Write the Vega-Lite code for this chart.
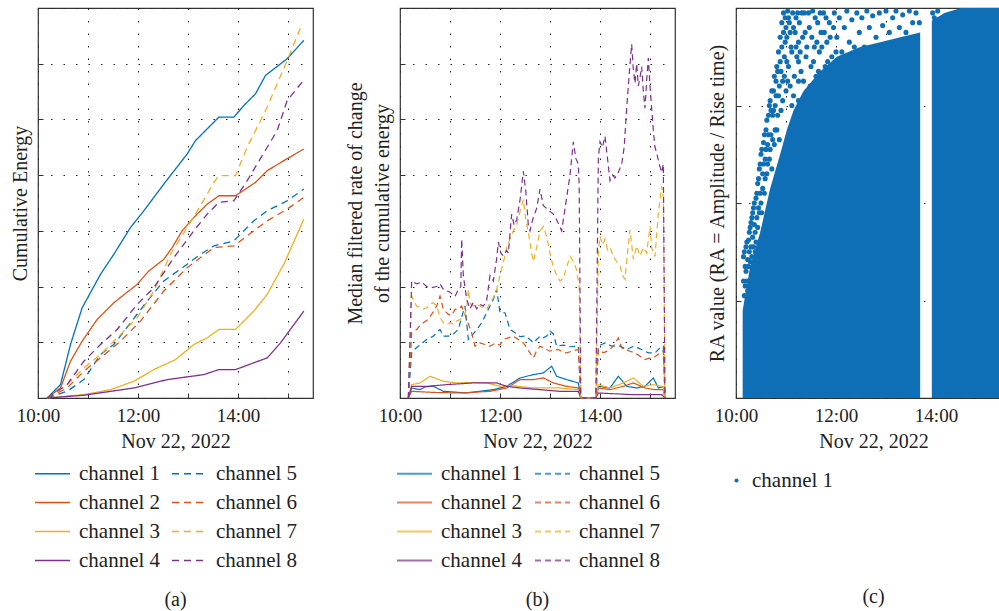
{
  "$schema": "https://vega.github.io/schema/vega-lite/v6.json",
  "padding": {"left": 9, "top": 6, "right": 0, "bottom": 0},
  "background": "white",
  "spacing": 30,
  "config": {
    "font": "Liberation Serif, DejaVu Serif, serif",
    "view": {"stroke": "#333", "strokeWidth": 1.2},
    "axis": {
      "labelFont": "Liberation Serif, DejaVu Serif, serif", "titleFont": "Liberation Serif, DejaVu Serif, serif",
      "labelFontSize": 19, "titleFontSize": 20, "titleFontWeight": "normal",
      "labelColor": "#222", "titleColor": "#222",
      "gridColor": "#222", "gridDash": [1.5, 11], "gridWidth": 1,
      "domain": false, "tickColor": "#333", "tickSize": -5, "tickWidth": 1,
      "labelPadding": 13, "titlePadding": 6, "labelFlush": false
    },
    "legend": {"labelFont": "Liberation Serif, DejaVu Serif, serif", "labelFontSize": 21, "labelColor": "#222"},
    "title": {"font": "Liberation Serif, DejaVu Serif, serif", "fontSize": 20, "fontWeight": "normal", "color": "#222"}
  },
  "resolve": {
    "scale": {"x": "independent", "y": "independent", "color": "independent", "strokeDash": "independent"},
    "legend": {"color": "independent", "strokeDash": "independent"}
  },
  "hconcat": [
    {
      "width": 275, "height": 390,
      "title": {"text": "(a)", "orient": "bottom", "anchor": "middle", "offset": 19},
      "data": {
        "format": {"parse": {"t": "date:'%H:%M'"}},
        "values": [
          {"c":"channel 1","t":"10:11","v":0},{"c":"channel 1","t":"10:27","v":0.24},{"c":"channel 1","t":"10:39","v":0.96},{"c":"channel 1","t":"10:53","v":1.62},{"c":"channel 1","t":"11:15","v":2.22},{"c":"channel 1","t":"11:31","v":2.58},{"c":"channel 1","t":"11:51","v":3.06},{"c":"channel 1","t":"12:07","v":3.36},{"c":"channel 1","t":"12:13","v":3.48},{"c":"channel 1","t":"12:31","v":3.84},{"c":"channel 1","t":"12:59","v":4.38},{"c":"channel 1","t":"13:09","v":4.62},{"c":"channel 1","t":"13:37","v":5.04},{"c":"channel 1","t":"13:55","v":5.04},{"c":"channel 1","t":"14:07","v":5.25},{"c":"channel 1","t":"14:21","v":5.46},{"c":"channel 1","t":"14:33","v":5.79},{"c":"channel 1","t":"14:59","v":6.09},{"c":"channel 1","t":"15:19","v":6.42},
          {"c":"channel 2","t":"10:11","v":0},{"c":"channel 2","t":"10:27","v":0.18},{"c":"channel 2","t":"10:39","v":0.66},{"c":"channel 2","t":"10:53","v":1.02},{"c":"channel 2","t":"11:11","v":1.41},{"c":"channel 2","t":"11:31","v":1.71},{"c":"channel 2","t":"11:59","v":2.04},{"c":"channel 2","t":"12:13","v":2.28},{"c":"channel 2","t":"12:31","v":2.49},{"c":"channel 2","t":"12:41","v":2.7},{"c":"channel 2","t":"12:53","v":3.0},{"c":"channel 2","t":"13:07","v":3.24},{"c":"channel 2","t":"13:23","v":3.48},{"c":"channel 2","t":"13:37","v":3.63},{"c":"channel 2","t":"13:57","v":3.63},{"c":"channel 2","t":"14:21","v":3.87},{"c":"channel 2","t":"14:35","v":4.08},{"c":"channel 2","t":"14:55","v":4.26},{"c":"channel 2","t":"15:19","v":4.47},
          {"c":"channel 3","t":"10:11","v":0},{"c":"channel 3","t":"10:55","v":0.06},{"c":"channel 3","t":"11:27","v":0.15},{"c":"channel 3","t":"11:55","v":0.3},{"c":"channel 3","t":"12:19","v":0.51},{"c":"channel 3","t":"12:45","v":0.69},{"c":"channel 3","t":"13:07","v":0.96},{"c":"channel 3","t":"13:23","v":1.08},{"c":"channel 3","t":"13:37","v":1.23},{"c":"channel 3","t":"13:57","v":1.23},{"c":"channel 3","t":"14:19","v":1.56},{"c":"channel 3","t":"14:35","v":1.86},{"c":"channel 3","t":"14:55","v":2.4},{"c":"channel 3","t":"15:19","v":3.21},
          {"c":"channel 4","t":"10:11","v":0},{"c":"channel 4","t":"10:55","v":0.05},{"c":"channel 4","t":"11:55","v":0.18},{"c":"channel 4","t":"12:35","v":0.33},{"c":"channel 4","t":"13:19","v":0.42},{"c":"channel 4","t":"13:37","v":0.51},{"c":"channel 4","t":"13:57","v":0.51},{"c":"channel 4","t":"14:35","v":0.72},{"c":"channel 4","t":"14:51","v":0.99},{"c":"channel 4","t":"15:19","v":1.56},
          {"c":"channel 5","t":"10:11","v":0},{"c":"channel 5","t":"10:35","v":0.12},{"c":"channel 5","t":"10:55","v":0.33},{"c":"channel 5","t":"11:15","v":0.78},{"c":"channel 5","t":"11:31","v":0.96},{"c":"channel 5","t":"11:51","v":1.35},{"c":"channel 5","t":"12:11","v":1.74},{"c":"channel 5","t":"12:31","v":2.1},{"c":"channel 5","t":"12:59","v":2.4},{"c":"channel 5","t":"13:15","v":2.58},{"c":"channel 5","t":"13:31","v":2.73},{"c":"channel 5","t":"13:55","v":2.82},{"c":"channel 5","t":"14:19","v":3.18},{"c":"channel 5","t":"14:35","v":3.36},{"c":"channel 5","t":"14:59","v":3.54},{"c":"channel 5","t":"15:19","v":3.75},
          {"c":"channel 6","t":"10:11","v":0},{"c":"channel 6","t":"10:35","v":0.18},{"c":"channel 6","t":"10:55","v":0.48},{"c":"channel 6","t":"11:15","v":0.72},{"c":"channel 6","t":"11:39","v":1.02},{"c":"channel 6","t":"12:03","v":1.38},{"c":"channel 6","t":"12:31","v":1.92},{"c":"channel 6","t":"12:59","v":2.34},{"c":"channel 6","t":"13:15","v":2.52},{"c":"channel 6","t":"13:31","v":2.7},{"c":"channel 6","t":"13:55","v":2.73},{"c":"channel 6","t":"14:19","v":3.0},{"c":"channel 6","t":"14:35","v":3.18},{"c":"channel 6","t":"14:59","v":3.39},{"c":"channel 6","t":"15:19","v":3.6},
          {"c":"channel 7","t":"10:11","v":0},{"c":"channel 7","t":"10:35","v":0.24},{"c":"channel 7","t":"10:55","v":0.54},{"c":"channel 7","t":"11:15","v":0.78},{"c":"channel 7","t":"11:35","v":1.08},{"c":"channel 7","t":"11:59","v":1.44},{"c":"channel 7","t":"12:19","v":1.92},{"c":"channel 7","t":"12:39","v":2.58},{"c":"channel 7","t":"12:59","v":3.06},{"c":"channel 7","t":"13:15","v":3.45},{"c":"channel 7","t":"13:31","v":3.87},{"c":"channel 7","t":"13:37","v":3.99},{"c":"channel 7","t":"13:57","v":3.99},{"c":"channel 7","t":"14:11","v":4.5},{"c":"channel 7","t":"14:35","v":5.22},{"c":"channel 7","t":"14:59","v":6.06},{"c":"channel 7","t":"15:17","v":6.72},
          {"c":"channel 8","t":"10:11","v":0},{"c":"channel 8","t":"10:35","v":0.24},{"c":"channel 8","t":"10:55","v":0.66},{"c":"channel 8","t":"11:15","v":0.96},{"c":"channel 8","t":"11:35","v":1.23},{"c":"channel 8","t":"11:59","v":1.68},{"c":"channel 8","t":"12:19","v":1.98},{"c":"channel 8","t":"12:43","v":2.52},{"c":"channel 8","t":"13:07","v":3.0},{"c":"channel 8","t":"13:23","v":3.3},{"c":"channel 8","t":"13:37","v":3.51},{"c":"channel 8","t":"13:55","v":3.54},{"c":"channel 8","t":"14:11","v":3.9},{"c":"channel 8","t":"14:35","v":4.5},{"c":"channel 8","t":"14:47","v":4.8},{"c":"channel 8","t":"14:59","v":5.34},{"c":"channel 8","t":"15:17","v":5.67}
        ]
      },
      "mark": {"type": "line", "strokeWidth": 1.3},
      "encoding": {
        "x": {"field": "t", "type": "temporal",
          "scale": {"domain": [{"year":1900,"month":1,"date":1,"hours":10},{"year":1900,"month":1,"date":1,"hours":15,"minutes":30}]},
          "axis": {"title": "Nov 22, 2022", "grid": true,
            "values": [{"year":1900,"month":1,"date":1,"hours":10},{"year":1900,"month":1,"date":1,"hours":11},{"year":1900,"month":1,"date":1,"hours":12},{"year":1900,"month":1,"date":1,"hours":13},{"year":1900,"month":1,"date":1,"hours":14},{"year":1900,"month":1,"date":1,"hours":15}],
            "labelExpr": "hours(datum.value) % 2 == 0 ? timeFormat(datum.value, '%H:%M') : ''"}},
        "y": {"field": "v", "type": "quantitative",
          "scale": {"domain": [0, 7], "nice": false},
          "axis": {"title": "Cumulative Energy", "labels": false, "values": [0,1,2,3,4,5,6,7], "titlePadding": 7}},
        "color": {"field": "c", "type": "nominal",
          "scale": {"domain": ["channel 1","channel 2","channel 3","channel 4","channel 5","channel 6","channel 7","channel 8"],
                    "range": ["#0072BD","#D95319","#EDB120","#7E2F8E","#0072BD","#D95319","#EDB120","#7E2F8E"]},
          "legend": {"title": null, "orient": "none", "legendX": -4, "legendY": 447, "columns": 2, "symbolType": "stroke", "symbolSize": 1225, "symbolStrokeWidth": 1.5, "labelOffset": 8, "columnPadding": 8, "rowPadding": -9}},
        "strokeDash": {"field": "c", "type": "nominal",
          "scale": {"domain": ["channel 1","channel 2","channel 3","channel 4","channel 5","channel 6","channel 7","channel 8"],
                    "range": [[1,0],[1,0],[1,0],[1,0],[7,5],[7,5],[7,5],[7,5]]},
          "legend": {"title": null, "orient": "none", "legendX": -4, "legendY": 447, "columns": 2, "symbolType": "stroke", "symbolSize": 1225, "symbolStrokeWidth": 1.5, "labelOffset": 8, "columnPadding": 8, "rowPadding": -9}}
      }
    },
    {
      "width": 275, "height": 390,
      "title": {"text": "(b)", "orient": "bottom", "anchor": "middle", "offset": 19},
      "data": {
        "format": {"parse": {"t": "date:'%H:%M'"}},
        "values": [
          {"c":"channel 1","t":"10:10","v":0},{"c":"channel 1","t":"10:14","v":0.18},{"c":"channel 1","t":"10:24","v":0.15},{"c":"channel 1","t":"10:30","v":0.2},{"c":"channel 1","t":"10:40","v":0.21},{"c":"channel 1","t":"10:52","v":0.12},{"c":"channel 1","t":"11:20","v":0.09},{"c":"channel 1","t":"11:52","v":0.15},{"c":"channel 1","t":"12:08","v":0.21},{"c":"channel 1","t":"12:24","v":0.36},{"c":"channel 1","t":"12:40","v":0.42},{"c":"channel 1","t":"12:52","v":0.45},{"c":"channel 1","t":"13:02","v":0.57},{"c":"channel 1","t":"13:08","v":0.39},{"c":"channel 1","t":"13:20","v":0.33},{"c":"channel 1","t":"13:34","v":0.27},{"c":"channel 1","t":"13:37","v":0},{"c":"channel 1","t":"13:55","v":0},{"c":"channel 1","t":"13:58","v":0.21},{"c":"channel 1","t":"14:12","v":0.18},{"c":"channel 1","t":"14:22","v":0.39},{"c":"channel 1","t":"14:32","v":0.21},{"c":"channel 1","t":"14:44","v":0.18},{"c":"channel 1","t":"14:54","v":0.21},{"c":"channel 1","t":"15:04","v":0.36},{"c":"channel 1","t":"15:10","v":0.18},{"c":"channel 1","t":"15:16","v":0.2},{"c":"channel 1","t":"15:18","v":0},
          {"c":"channel 2","t":"10:10","v":0},{"c":"channel 2","t":"10:14","v":0.12},{"c":"channel 2","t":"10:40","v":0.1},{"c":"channel 2","t":"11:12","v":0.09},{"c":"channel 2","t":"11:48","v":0.12},{"c":"channel 2","t":"12:08","v":0.18},{"c":"channel 2","t":"12:24","v":0.33},{"c":"channel 2","t":"12:40","v":0.33},{"c":"channel 2","t":"12:52","v":0.36},{"c":"channel 2","t":"13:04","v":0.27},{"c":"channel 2","t":"13:20","v":0.21},{"c":"channel 2","t":"13:34","v":0.18},{"c":"channel 2","t":"13:37","v":0},{"c":"channel 2","t":"13:55","v":0},{"c":"channel 2","t":"13:58","v":0.18},{"c":"channel 2","t":"14:12","v":0.15},{"c":"channel 2","t":"14:28","v":0.21},{"c":"channel 2","t":"14:40","v":0.27},{"c":"channel 2","t":"14:54","v":0.18},{"c":"channel 2","t":"15:06","v":0.15},{"c":"channel 2","t":"15:16","v":0.15},{"c":"channel 2","t":"15:18","v":0},
          {"c":"channel 3","t":"10:10","v":0},{"c":"channel 3","t":"10:14","v":0.24},{"c":"channel 3","t":"10:24","v":0.27},{"c":"channel 3","t":"10:36","v":0.39},{"c":"channel 3","t":"10:52","v":0.3},{"c":"channel 3","t":"11:08","v":0.27},{"c":"channel 3","t":"11:28","v":0.28},{"c":"channel 3","t":"11:44","v":0.27},{"c":"channel 3","t":"12:00","v":0.21},{"c":"channel 3","t":"12:16","v":0.22},{"c":"channel 3","t":"12:40","v":0.18},{"c":"channel 3","t":"13:12","v":0.18},{"c":"channel 3","t":"13:34","v":0.15},{"c":"channel 3","t":"13:37","v":0},{"c":"channel 3","t":"13:55","v":0},{"c":"channel 3","t":"13:58","v":0.24},{"c":"channel 3","t":"14:12","v":0.18},{"c":"channel 3","t":"14:28","v":0.27},{"c":"channel 3","t":"14:40","v":0.36},{"c":"channel 3","t":"14:52","v":0.21},{"c":"channel 3","t":"15:04","v":0.24},{"c":"channel 3","t":"15:16","v":0.2},{"c":"channel 3","t":"15:18","v":0},
          {"c":"channel 4","t":"10:10","v":0},{"c":"channel 4","t":"10:14","v":0.21},{"c":"channel 4","t":"10:32","v":0.21},{"c":"channel 4","t":"10:56","v":0.24},{"c":"channel 4","t":"11:28","v":0.27},{"c":"channel 4","t":"11:56","v":0.27},{"c":"channel 4","t":"12:08","v":0.21},{"c":"channel 4","t":"12:24","v":0.18},{"c":"channel 4","t":"12:48","v":0.15},{"c":"channel 4","t":"13:12","v":0.12},{"c":"channel 4","t":"13:34","v":0.12},{"c":"channel 4","t":"13:37","v":0},{"c":"channel 4","t":"13:55","v":0},{"c":"channel 4","t":"13:58","v":0.09},{"c":"channel 4","t":"14:40","v":0.06},{"c":"channel 4","t":"15:14","v":0.06},{"c":"channel 4","t":"15:18","v":0},
          {"c":"channel 5","t":"10:10","v":0},{"c":"channel 5","t":"10:14","v":0.81},{"c":"channel 5","t":"10:18","v":0.88},{"c":"channel 5","t":"10:22","v":0.93},{"c":"channel 5","t":"10:26","v":0.98},{"c":"channel 5","t":"10:32","v":1.05},{"c":"channel 5","t":"10:40","v":1.11},{"c":"channel 5","t":"10:44","v":1.18},{"c":"channel 5","t":"10:48","v":1.23},{"c":"channel 5","t":"10:52","v":1.11},{"c":"channel 5","t":"10:58","v":1.11},{"c":"channel 5","t":"11:04","v":1.15},{"c":"channel 5","t":"11:10","v":1.23},{"c":"channel 5","t":"11:14","v":1.45},{"c":"channel 5","t":"11:18","v":1.65},{"c":"channel 5","t":"11:22","v":1.05},{"c":"channel 5","t":"11:28","v":1.15},{"c":"channel 5","t":"11:32","v":1.23},{"c":"channel 5","t":"11:38","v":1.35},{"c":"channel 5","t":"11:42","v":1.47},{"c":"channel 5","t":"11:48","v":1.65},{"c":"channel 5","t":"11:52","v":1.77},{"c":"channel 5","t":"11:56","v":1.95},{"c":"channel 5","t":"12:00","v":1.53},{"c":"channel 5","t":"12:06","v":1.53},{"c":"channel 5","t":"12:12","v":1.23},{"c":"channel 5","t":"12:18","v":1.17},{"c":"channel 5","t":"12:24","v":1.1},{"c":"channel 5","t":"12:30","v":1.11},{"c":"channel 5","t":"12:36","v":1.05},{"c":"channel 5","t":"12:40","v":0.99},{"c":"channel 5","t":"12:44","v":1.05},{"c":"channel 5","t":"12:48","v":1.11},{"c":"channel 5","t":"12:52","v":1.08},{"c":"channel 5","t":"12:56","v":1.11},{"c":"channel 5","t":"13:00","v":1.2},{"c":"channel 5","t":"13:04","v":1.15},{"c":"channel 5","t":"13:08","v":0.93},{"c":"channel 5","t":"13:16","v":0.95},{"c":"channel 5","t":"13:24","v":0.92},{"c":"channel 5","t":"13:34","v":0.93},{"c":"channel 5","t":"13:37","v":0},{"c":"channel 5","t":"13:55","v":0},{"c":"channel 5","t":"13:58","v":0.93},{"c":"channel 5","t":"14:06","v":0.99},{"c":"channel 5","t":"14:14","v":0.93},{"c":"channel 5","t":"14:24","v":0.93},{"c":"channel 5","t":"14:32","v":0.87},{"c":"channel 5","t":"14:40","v":0.93},{"c":"channel 5","t":"14:50","v":0.87},{"c":"channel 5","t":"14:58","v":0.81},{"c":"channel 5","t":"15:06","v":0.81},{"c":"channel 5","t":"15:12","v":0.9},{"c":"channel 5","t":"15:16","v":0.93},{"c":"channel 5","t":"15:18","v":0},
          {"c":"channel 6","t":"10:10","v":0},{"c":"channel 6","t":"10:14","v":1.17},{"c":"channel 6","t":"10:20","v":1.23},{"c":"channel 6","t":"10:24","v":1.3},{"c":"channel 6","t":"10:28","v":1.35},{"c":"channel 6","t":"10:34","v":1.41},{"c":"channel 6","t":"10:40","v":1.55},{"c":"channel 6","t":"10:44","v":1.65},{"c":"channel 6","t":"10:48","v":1.83},{"c":"channel 6","t":"10:52","v":1.59},{"c":"channel 6","t":"10:58","v":1.5},{"c":"channel 6","t":"11:02","v":1.48},{"c":"channel 6","t":"11:06","v":1.59},{"c":"channel 6","t":"11:10","v":1.6},{"c":"channel 6","t":"11:14","v":1.65},{"c":"channel 6","t":"11:20","v":1.41},{"c":"channel 6","t":"11:26","v":1.17},{"c":"channel 6","t":"11:30","v":0.93},{"c":"channel 6","t":"11:36","v":0.99},{"c":"channel 6","t":"11:42","v":0.96},{"c":"channel 6","t":"11:48","v":0.93},{"c":"channel 6","t":"11:54","v":0.98},{"c":"channel 6","t":"12:00","v":0.95},{"c":"channel 6","t":"12:04","v":1.05},{"c":"channel 6","t":"12:10","v":1.08},{"c":"channel 6","t":"12:16","v":1.11},{"c":"channel 6","t":"12:22","v":1.05},{"c":"channel 6","t":"12:28","v":0.99},{"c":"channel 6","t":"12:32","v":0.9},{"c":"channel 6","t":"12:36","v":0.81},{"c":"channel 6","t":"12:40","v":0.72},{"c":"channel 6","t":"12:44","v":0.85},{"c":"channel 6","t":"12:48","v":0.93},{"c":"channel 6","t":"12:52","v":0.9},{"c":"channel 6","t":"12:56","v":0.87},{"c":"channel 6","t":"13:00","v":0.84},{"c":"channel 6","t":"13:04","v":0.86},{"c":"channel 6","t":"13:10","v":0.87},{"c":"channel 6","t":"13:16","v":0.82},{"c":"channel 6","t":"13:20","v":0.81},{"c":"channel 6","t":"13:26","v":0.84},{"c":"channel 6","t":"13:34","v":0.87},{"c":"channel 6","t":"13:37","v":0},{"c":"channel 6","t":"13:55","v":0},{"c":"channel 6","t":"13:58","v":0.87},{"c":"channel 6","t":"14:04","v":0.81},{"c":"channel 6","t":"14:10","v":0.85},{"c":"channel 6","t":"14:16","v":0.93},{"c":"channel 6","t":"14:22","v":1.08},{"c":"channel 6","t":"14:26","v":0.9},{"c":"channel 6","t":"14:30","v":0.87},{"c":"channel 6","t":"14:36","v":0.84},{"c":"channel 6","t":"14:42","v":0.81},{"c":"channel 6","t":"14:48","v":0.75},{"c":"channel 6","t":"14:54","v":0.69},{"c":"channel 6","t":"15:00","v":0.72},{"c":"channel 6","t":"15:06","v":0.74},{"c":"channel 6","t":"15:12","v":0.81},{"c":"channel 6","t":"15:16","v":0.85},{"c":"channel 6","t":"15:18","v":0},
          {"c":"channel 7","t":"10:10","v":0},{"c":"channel 7","t":"10:14","v":1.83},{"c":"channel 7","t":"10:18","v":1.7},{"c":"channel 7","t":"10:20","v":1.65},{"c":"channel 7","t":"10:24","v":1.62},{"c":"channel 7","t":"10:28","v":1.6},{"c":"channel 7","t":"10:32","v":1.62},{"c":"channel 7","t":"10:36","v":1.68},{"c":"channel 7","t":"10:40","v":1.71},{"c":"channel 7","t":"10:44","v":1.65},{"c":"channel 7","t":"10:48","v":1.45},{"c":"channel 7","t":"10:52","v":1.35},{"c":"channel 7","t":"10:56","v":1.32},{"c":"channel 7","t":"11:00","v":1.35},{"c":"channel 7","t":"11:04","v":1.33},{"c":"channel 7","t":"11:08","v":1.38},{"c":"channel 7","t":"11:12","v":1.41},{"c":"channel 7","t":"11:16","v":1.45},{"c":"channel 7","t":"11:20","v":1.6},{"c":"channel 7","t":"11:22","v":1.95},{"c":"channel 7","t":"11:24","v":1.7},{"c":"channel 7","t":"11:28","v":1.65},{"c":"channel 7","t":"11:32","v":1.68},{"c":"channel 7","t":"11:36","v":1.65},{"c":"channel 7","t":"11:40","v":1.62},{"c":"channel 7","t":"11:44","v":1.6},{"c":"channel 7","t":"11:48","v":1.7},{"c":"channel 7","t":"11:52","v":1.8},{"c":"channel 7","t":"11:56","v":1.95},{"c":"channel 7","t":"12:00","v":2.2},{"c":"channel 7","t":"12:04","v":2.43},{"c":"channel 7","t":"12:08","v":2.7},{"c":"channel 7","t":"12:12","v":2.85},{"c":"channel 7","t":"12:16","v":3.0},{"c":"channel 7","t":"12:20","v":3.1},{"c":"channel 7","t":"12:24","v":3.35},{"c":"channel 7","t":"12:28","v":3.56},{"c":"channel 7","t":"12:31","v":3.2},{"c":"channel 7","t":"12:34","v":2.97},{"c":"channel 7","t":"12:38","v":2.6},{"c":"channel 7","t":"12:40","v":2.45},{"c":"channel 7","t":"12:44","v":2.7},{"c":"channel 7","t":"12:48","v":3.0},{"c":"channel 7","t":"12:52","v":3.08},{"c":"channel 7","t":"12:56","v":2.9},{"c":"channel 7","t":"13:00","v":2.6},{"c":"channel 7","t":"13:04","v":2.35},{"c":"channel 7","t":"13:08","v":2.2},{"c":"channel 7","t":"13:12","v":2.1},{"c":"channel 7","t":"13:16","v":2.15},{"c":"channel 7","t":"13:20","v":2.35},{"c":"channel 7","t":"13:24","v":2.54},{"c":"channel 7","t":"13:28","v":2.45},{"c":"channel 7","t":"13:32","v":2.3},{"c":"channel 7","t":"13:35","v":2.0},{"c":"channel 7","t":"13:37","v":0},{"c":"channel 7","t":"13:55","v":0},{"c":"channel 7","t":"13:58","v":2.6},{"c":"channel 7","t":"14:00","v":2.9},{"c":"channel 7","t":"14:03","v":2.75},{"c":"channel 7","t":"14:06","v":2.85},{"c":"channel 7","t":"14:09","v":2.66},{"c":"channel 7","t":"14:12","v":2.7},{"c":"channel 7","t":"14:16","v":2.54},{"c":"channel 7","t":"14:20","v":2.45},{"c":"channel 7","t":"14:24","v":2.37},{"c":"channel 7","t":"14:27","v":2.2},{"c":"channel 7","t":"14:30","v":2.13},{"c":"channel 7","t":"14:33","v":2.6},{"c":"channel 7","t":"14:36","v":3.02},{"c":"channel 7","t":"14:40","v":2.49},{"c":"channel 7","t":"14:44","v":2.73},{"c":"channel 7","t":"14:48","v":2.55},{"c":"channel 7","t":"14:52","v":2.7},{"c":"channel 7","t":"14:56","v":2.6},{"c":"channel 7","t":"15:00","v":3.08},{"c":"channel 7","t":"15:02","v":2.7},{"c":"channel 7","t":"15:06","v":2.54},{"c":"channel 7","t":"15:10","v":3.32},{"c":"channel 7","t":"15:14","v":3.8},{"c":"channel 7","t":"15:16","v":3.6},{"c":"channel 7","t":"15:18","v":0},
          {"c":"channel 8","t":"10:10","v":0},{"c":"channel 8","t":"10:14","v":2.1},{"c":"channel 8","t":"10:20","v":2.05},{"c":"channel 8","t":"10:26","v":2.08},{"c":"channel 8","t":"10:32","v":2.0},{"c":"channel 8","t":"10:38","v":1.98},{"c":"channel 8","t":"10:44","v":2.0},{"c":"channel 8","t":"10:48","v":2.05},{"c":"channel 8","t":"10:52","v":1.95},{"c":"channel 8","t":"11:00","v":1.9},{"c":"channel 8","t":"11:06","v":1.82},{"c":"channel 8","t":"11:10","v":1.95},{"c":"channel 8","t":"11:13","v":2.0},{"c":"channel 8","t":"11:14","v":2.85},{"c":"channel 8","t":"11:16","v":2.2},{"c":"channel 8","t":"11:20","v":1.77},{"c":"channel 8","t":"11:24","v":1.6},{"c":"channel 8","t":"11:28","v":1.72},{"c":"channel 8","t":"11:32","v":1.6},{"c":"channel 8","t":"11:36","v":1.68},{"c":"channel 8","t":"11:40","v":1.65},{"c":"channel 8","t":"11:44","v":1.75},{"c":"channel 8","t":"11:48","v":2.2},{"c":"channel 8","t":"11:52","v":2.1},{"c":"channel 8","t":"11:56","v":2.5},{"c":"channel 8","t":"11:58","v":2.8},{"c":"channel 8","t":"12:01","v":2.6},{"c":"channel 8","t":"12:04","v":2.55},{"c":"channel 8","t":"12:08","v":2.65},{"c":"channel 8","t":"12:10","v":2.6},{"c":"channel 8","t":"12:14","v":3.3},{"c":"channel 8","t":"12:17","v":3.1},{"c":"channel 8","t":"12:20","v":3.2},{"c":"channel 8","t":"12:24","v":3.55},{"c":"channel 8","t":"12:28","v":4.07},{"c":"channel 8","t":"12:31","v":3.7},{"c":"channel 8","t":"12:34","v":3.1},{"c":"channel 8","t":"12:36","v":3.0},{"c":"channel 8","t":"12:40","v":3.25},{"c":"channel 8","t":"12:44","v":3.4},{"c":"channel 8","t":"12:48","v":3.75},{"c":"channel 8","t":"12:52","v":3.45},{"c":"channel 8","t":"12:56","v":3.4},{"c":"channel 8","t":"13:00","v":3.35},{"c":"channel 8","t":"13:04","v":3.3},{"c":"channel 8","t":"13:08","v":3.2},{"c":"channel 8","t":"13:11","v":3.1},{"c":"channel 8","t":"13:14","v":3.0},{"c":"channel 8","t":"13:17","v":3.3},{"c":"channel 8","t":"13:20","v":3.6},{"c":"channel 8","t":"13:24","v":4.0},{"c":"channel 8","t":"13:28","v":4.6},{"c":"channel 8","t":"13:31","v":4.3},{"c":"channel 8","t":"13:34","v":4.2},{"c":"channel 8","t":"13:35","v":3.8},{"c":"channel 8","t":"13:37","v":0},{"c":"channel 8","t":"13:55","v":0},{"c":"channel 8","t":"13:58","v":4.3},{"c":"channel 8","t":"14:00","v":4.6},{"c":"channel 8","t":"14:03","v":4.5},{"c":"channel 8","t":"14:06","v":4.7},{"c":"channel 8","t":"14:09","v":4.3},{"c":"channel 8","t":"14:12","v":3.9},{"c":"channel 8","t":"14:15","v":4.0},{"c":"channel 8","t":"14:18","v":3.95},{"c":"channel 8","t":"14:22","v":4.05},{"c":"channel 8","t":"14:26","v":4.2},{"c":"channel 8","t":"14:29","v":4.5},{"c":"channel 8","t":"14:32","v":5.2},{"c":"channel 8","t":"14:35","v":5.8},{"c":"channel 8","t":"14:38","v":6.35},{"c":"channel 8","t":"14:40","v":5.9},{"c":"channel 8","t":"14:42","v":5.65},{"c":"channel 8","t":"14:44","v":6.0},{"c":"channel 8","t":"14:46","v":5.6},{"c":"channel 8","t":"14:48","v":5.75},{"c":"channel 8","t":"14:50","v":5.95},{"c":"channel 8","t":"14:52","v":5.5},{"c":"channel 8","t":"14:54","v":5.2},{"c":"channel 8","t":"14:56","v":5.7},{"c":"channel 8","t":"14:58","v":6.1},{"c":"channel 8","t":"15:00","v":5.6},{"c":"channel 8","t":"15:02","v":5.2},{"c":"channel 8","t":"15:04","v":4.8},{"c":"channel 8","t":"15:06","v":4.5},{"c":"channel 8","t":"15:08","v":4.4},{"c":"channel 8","t":"15:11","v":4.2},{"c":"channel 8","t":"15:14","v":4.05},{"c":"channel 8","t":"15:16","v":4.2},{"c":"channel 8","t":"15:18","v":0}
        ]
      },
      "mark": {"type": "line", "strokeWidth": 1.2},
      "encoding": {
        "x": {"field": "t", "type": "temporal",
          "scale": {"domain": [{"year":1900,"month":1,"date":1,"hours":10},{"year":1900,"month":1,"date":1,"hours":15,"minutes":30}]},
          "axis": {"title": "Nov 22, 2022", "grid": true,
            "values": [{"year":1900,"month":1,"date":1,"hours":10},{"year":1900,"month":1,"date":1,"hours":11},{"year":1900,"month":1,"date":1,"hours":12},{"year":1900,"month":1,"date":1,"hours":13},{"year":1900,"month":1,"date":1,"hours":14},{"year":1900,"month":1,"date":1,"hours":15}],
            "labelExpr": "hours(datum.value) % 2 == 0 ? timeFormat(datum.value, '%H:%M') : ''"}},
        "y": {"field": "v", "type": "quantitative",
          "scale": {"domain": [0, 7], "nice": false},
          "axis": {"title": ["Median filtered rate of change", "of the cumulative energy"], "titleLineHeight": 27, "labels": false, "values": [0,1,2,3,4,5,6,7], "titlePadding": 7}},
        "color": {"field": "c", "type": "nominal",
          "scale": {"domain": ["channel 1","channel 2","channel 3","channel 4","channel 5","channel 6","channel 7","channel 8"],
                    "range": ["#0072BD","#D95319","#EDB120","#7E2F8E","#0072BD","#D95319","#EDB120","#7E2F8E"]},
          "legend": {"title": null, "orient": "none", "legendX": -4, "legendY": 447, "columns": 2, "symbolType": "stroke", "symbolSize": 1225, "symbolStrokeWidth": 2, "symbolOpacity": 0.7, "labelOffset": 8, "columnPadding": 8, "rowPadding": -9}},
        "strokeDash": {"field": "c", "type": "nominal",
          "scale": {"domain": ["channel 1","channel 2","channel 3","channel 4","channel 5","channel 6","channel 7","channel 8"],
                    "range": [[1,0],[1,0],[1,0],[1,0],[6,4],[6,4],[6,4],[6,4]]},
          "legend": {"title": null, "orient": "none", "legendX": -4, "legendY": 447, "columns": 2, "symbolType": "stroke", "symbolSize": 1225, "symbolStrokeWidth": 2, "symbolOpacity": 0.7, "labelOffset": 8, "columnPadding": 8, "rowPadding": -9}}
      }
    },
    {
      "width": 275, "height": 390,
      "title": {"text": "(c)", "orient": "bottom", "anchor": "middle", "offset": 96},
      "layer": [
        {
          "data": {
            "format": {"parse": {"t": "date:'%H:%M'"}},
            "values": [
              {"seg":1,"t":"10:08","v":0.9},{"seg":1,"t":"10:17","v":1.35},{"seg":1,"t":"10:29","v":1.7},{"seg":1,"t":"10:41","v":2.15},{"seg":1,"t":"10:53","v":2.5},{"seg":1,"t":"11:01","v":2.75},{"seg":1,"t":"11:09","v":2.95},{"seg":1,"t":"11:21","v":3.15},{"seg":1,"t":"11:41","v":3.35},{"seg":1,"t":"12:01","v":3.5},{"seg":1,"t":"12:29","v":3.6},{"seg":1,"t":"12:53","v":3.65},{"seg":1,"t":"13:17","v":3.7},{"seg":1,"t":"13:41","v":3.75},
              {"seg":2,"t":"13:55","v":3.87},{"seg":2,"t":"14:10","v":3.95},{"seg":2,"t":"14:30","v":4.0},{"seg":2,"t":"15:30","v":4.0}
            ]
          },
          "mark": {"type": "area", "color": "#0f6fb6", "clip": true},
          "encoding": {
            "x": {"field": "t", "type": "temporal",
              "scale": {"domain": [{"year":1900,"month":1,"date":1,"hours":10},{"year":1900,"month":1,"date":1,"hours":15,"minutes":30}]},
              "axis": {"title": "Nov 22, 2022", "grid": true,
                "values": [{"year":1900,"month":1,"date":1,"hours":10},{"year":1900,"month":1,"date":1,"hours":11},{"year":1900,"month":1,"date":1,"hours":12},{"year":1900,"month":1,"date":1,"hours":13},{"year":1900,"month":1,"date":1,"hours":14},{"year":1900,"month":1,"date":1,"hours":15}],
                "labelExpr": "hours(datum.value) % 2 == 0 ? timeFormat(datum.value, '%H:%M') : ''"}},
            "y": {"field": "v", "type": "quantitative", "stack": null,
              "scale": {"domain": [0, 4], "nice": false},
              "axis": {"title": "RA value (RA = Amplitude / Rise time)", "labels": false, "values": [0,1,2,3,4], "titlePadding": 8}},
            "detail": {"field": "seg", "type": "nominal"}
          }
        },
        {
          "data": {
            "format": {"parse": {"t": "date:'%H:%M'"}},
            "values": [
              {"c":"channel 1","t":"10:09","v":1.2},{"c":"channel 1","t":"10:09","v":1.45},{"c":"channel 1","t":"10:10","v":1.05},{"c":"channel 1","t":"10:10","v":1.5},{"c":"channel 1","t":"10:11","v":1.35},{"c":"channel 1","t":"10:11","v":1.15},{"c":"channel 1","t":"10:12","v":1.55},{"c":"channel 1","t":"10:12","v":1.3},{"c":"channel 1","t":"10:13","v":1.2},{"c":"channel 1","t":"10:13","v":1.6},{"c":"channel 1","t":"10:14","v":1.42},{"c":"channel 1","t":"10:14","v":1.1},{"c":"channel 1","t":"10:15","v":1.62},{"c":"channel 1","t":"10:15","v":1.35},{"c":"channel 1","t":"10:16","v":1.5},{"c":"channel 1","t":"10:16","v":1.7},{"c":"channel 1","t":"10:17","v":1.75},{"c":"channel 1","t":"10:17","v":1.4},{"c":"channel 1","t":"10:18","v":1.55},{"c":"channel 1","t":"10:18","v":1.8},{"c":"channel 1","t":"10:19","v":1.85},{"c":"channel 1","t":"10:19","v":1.45},{"c":"channel 1","t":"10:20","v":1.65},{"c":"channel 1","t":"10:20","v":1.9},{"c":"channel 1","t":"10:21","v":1.95},{"c":"channel 1","t":"10:21","v":1.55},{"c":"channel 1","t":"10:22","v":1.78},{"c":"channel 1","t":"10:22","v":2.0},{"c":"channel 1","t":"10:23","v":1.5},{"c":"channel 1","t":"10:23","v":1.7},{"c":"channel 1","t":"10:24","v":2.05},{"c":"channel 1","t":"10:24","v":1.6},{"c":"channel 1","t":"10:25","v":1.85},{"c":"channel 1","t":"10:25","v":2.1},{"c":"channel 1","t":"10:26","v":2.2},{"c":"channel 1","t":"10:26","v":1.75},{"c":"channel 1","t":"10:27","v":1.95},{"c":"channel 1","t":"10:27","v":2.25},{"c":"channel 1","t":"10:28","v":2.35},{"c":"channel 1","t":"10:28","v":1.9},{"c":"channel 1","t":"10:29","v":2.1},{"c":"channel 1","t":"10:29","v":2.4},{"c":"channel 1","t":"10:30","v":2.5},{"c":"channel 1","t":"10:30","v":2.0},{"c":"channel 1","t":"10:31","v":1.9},{"c":"channel 1","t":"10:31","v":2.55},{"c":"channel 1","t":"10:32","v":2.3},{"c":"channel 1","t":"10:32","v":2.15},{"c":"channel 1","t":"10:33","v":2.62},{"c":"channel 1","t":"10:33","v":2.4},{"c":"channel 1","t":"10:34","v":2.1},{"c":"channel 1","t":"10:34","v":2.7},{"c":"channel 1","t":"10:35","v":2.45},{"c":"channel 1","t":"10:35","v":2.25},{"c":"channel 1","t":"10:36","v":2.75},{"c":"channel 1","t":"10:36","v":2.55},{"c":"channel 1","t":"10:37","v":2.3},{"c":"channel 1","t":"10:37","v":2.85},{"c":"channel 1","t":"10:38","v":2.6},{"c":"channel 1","t":"10:38","v":2.4},{"c":"channel 1","t":"10:39","v":2.9},{"c":"channel 1","t":"10:39","v":2.7},{"c":"channel 1","t":"10:40","v":2.45},{"c":"channel 1","t":"10:40","v":3.0},{"c":"channel 1","t":"10:41","v":3.05},{"c":"channel 1","t":"10:41","v":2.55},{"c":"channel 1","t":"10:42","v":2.7},{"c":"channel 1","t":"10:42","v":2.95},{"c":"channel 1","t":"10:43","v":2.35},{"c":"channel 1","t":"10:43","v":3.15},{"c":"channel 1","t":"10:44","v":2.9},{"c":"channel 1","t":"10:44","v":2.65},{"c":"channel 1","t":"10:45","v":3.15},{"c":"channel 1","t":"10:45","v":2.95},{"c":"channel 1","t":"10:46","v":2.6},{"c":"channel 1","t":"10:46","v":3.3},{"c":"channel 1","t":"10:47","v":3.0},{"c":"channel 1","t":"10:47","v":2.75},{"c":"channel 1","t":"10:48","v":3.25},{"c":"channel 1","t":"10:48","v":3.1},{"c":"channel 1","t":"10:49","v":2.75},{"c":"channel 1","t":"10:49","v":3.4},{"c":"channel 1","t":"10:50","v":3.35},{"c":"channel 1","t":"10:50","v":2.9},{"c":"channel 1","t":"10:51","v":3.1},{"c":"channel 1","t":"10:51","v":3.55},{"c":"channel 1","t":"10:52","v":2.65},{"c":"channel 1","t":"10:52","v":3.2},{"c":"channel 1","t":"10:53","v":3.45},{"c":"channel 1","t":"10:53","v":3.7},{"c":"channel 1","t":"10:54","v":2.95},{"c":"channel 1","t":"10:54","v":3.35},{"c":"channel 1","t":"10:55","v":3.6},{"c":"channel 1","t":"10:55","v":3.85},{"c":"channel 1","t":"10:56","v":3.25},{"c":"channel 1","t":"10:56","v":3.05},{"c":"channel 1","t":"10:57","v":3.75},{"c":"channel 1","t":"10:57","v":3.95},{"c":"channel 1","t":"10:58","v":3.5},{"c":"channel 1","t":"10:58","v":3.3},{"c":"channel 1","t":"10:59","v":3.9},{"c":"channel 1","t":"10:59","v":3.65},{"c":"channel 1","t":"11:00","v":3.15},{"c":"channel 1","t":"11:00","v":3.8},{"c":"channel 1","t":"11:01","v":3.7},{"c":"channel 1","t":"11:01","v":3.45},{"c":"channel 1","t":"11:02","v":3.97},{"c":"channel 1","t":"11:02","v":3.25},{"c":"channel 1","t":"11:03","v":3.4},{"c":"channel 1","t":"11:03","v":3.9},{"c":"channel 1","t":"11:04","v":3.85},{"c":"channel 1","t":"11:05","v":3.75},{"c":"channel 1","t":"11:05","v":3.2},{"c":"channel 1","t":"11:06","v":3.6},{"c":"channel 1","t":"11:07","v":3.0},{"c":"channel 1","t":"11:07","v":3.55},{"c":"channel 1","t":"11:08","v":3.95},{"c":"channel 1","t":"11:09","v":3.8},{"c":"channel 1","t":"11:09","v":3.1},{"c":"channel 1","t":"11:10","v":3.3},{"c":"channel 1","t":"11:11","v":3.75},{"c":"channel 1","t":"11:12","v":3.6},{"c":"channel 1","t":"11:12","v":3.9},{"c":"channel 1","t":"11:13","v":3.5},{"c":"channel 1","t":"11:14","v":3.95},{"c":"channel 1","t":"11:15","v":3.65},{"c":"channel 1","t":"11:15","v":3.45},{"c":"channel 1","t":"11:15","v":3.25},{"c":"channel 1","t":"11:15","v":3.05},{"c":"channel 1","t":"11:16","v":3.85},{"c":"channel 1","t":"11:17","v":3.55},{"c":"channel 1","t":"11:18","v":3.35},{"c":"channel 1","t":"11:19","v":3.95},{"c":"channel 1","t":"11:20","v":3.7},{"c":"channel 1","t":"11:21","v":3.25},{"c":"channel 1","t":"11:22","v":3.95},{"c":"channel 1","t":"11:23","v":3.75},{"c":"channel 1","t":"11:24","v":3.5},{"c":"channel 1","t":"11:25","v":3.6},{"c":"channel 1","t":"11:26","v":3.15},{"c":"channel 1","t":"11:27","v":3.95},{"c":"channel 1","t":"11:28","v":3.8},{"c":"channel 1","t":"11:29","v":3.2},{"c":"channel 1","t":"11:30","v":3.4},{"c":"channel 1","t":"11:31","v":3.7},{"c":"channel 1","t":"11:32","v":3.97},{"c":"channel 1","t":"11:33","v":3.45},{"c":"channel 1","t":"11:34","v":3.6},{"c":"channel 1","t":"11:35","v":3.9},{"c":"channel 1","t":"11:36","v":3.3},{"c":"channel 1","t":"11:37","v":3.65},{"c":"channel 1","t":"11:38","v":3.85},{"c":"channel 1","t":"11:39","v":3.35},{"c":"channel 1","t":"11:40","v":3.55},{"c":"channel 1","t":"11:41","v":3.95},{"c":"channel 1","t":"11:42","v":3.75},{"c":"channel 1","t":"11:43","v":3.6},{"c":"channel 1","t":"11:45","v":3.95},{"c":"channel 1","t":"11:46","v":3.75},{"c":"channel 1","t":"11:47","v":3.4},{"c":"channel 1","t":"11:48","v":3.9},{"c":"channel 1","t":"11:49","v":3.65},{"c":"channel 1","t":"11:50","v":3.45},{"c":"channel 1","t":"11:52","v":3.85},{"c":"channel 1","t":"11:53","v":3.7},{"c":"channel 1","t":"11:55","v":3.5},{"c":"channel 1","t":"11:57","v":3.8},{"c":"channel 1","t":"11:58","v":3.95},{"c":"channel 1","t":"12:00","v":3.55},{"c":"channel 1","t":"12:01","v":3.7},{"c":"channel 1","t":"12:04","v":3.9},{"c":"channel 1","t":"12:07","v":3.55},{"c":"channel 1","t":"12:10","v":3.8},{"c":"channel 1","t":"12:13","v":3.97},{"c":"channel 1","t":"12:16","v":3.65},{"c":"channel 1","t":"12:19","v":3.88},{"c":"channel 1","t":"12:22","v":3.6},{"c":"channel 1","t":"12:25","v":3.95},{"c":"channel 1","t":"12:28","v":3.75},{"c":"channel 1","t":"12:31","v":3.9},{"c":"channel 1","t":"12:34","v":3.6},{"c":"channel 1","t":"12:37","v":3.97},{"c":"channel 1","t":"12:40","v":3.8},{"c":"channel 1","t":"12:44","v":3.92},{"c":"channel 1","t":"12:48","v":3.7},{"c":"channel 1","t":"12:52","v":3.95},{"c":"channel 1","t":"12:56","v":3.82},{"c":"channel 1","t":"13:00","v":3.97},{"c":"channel 1","t":"13:04","v":3.75},{"c":"channel 1","t":"13:08","v":3.9},{"c":"channel 1","t":"13:12","v":3.97},{"c":"channel 1","t":"13:16","v":3.8},{"c":"channel 1","t":"13:20","v":3.93},{"c":"channel 1","t":"13:24","v":3.75},{"c":"channel 1","t":"13:28","v":3.97},{"c":"channel 1","t":"13:32","v":3.85},{"c":"channel 1","t":"13:36","v":3.95},{"c":"channel 1","t":"13:40","v":3.85},{"c":"channel 1","t":"13:56","v":3.95},{"c":"channel 1","t":"13:58","v":3.9},{"c":"channel 1","t":"14:02","v":3.97}
            ]
          },
          "mark": {"type": "circle", "size": 26, "opacity": 1, "clip": true},
          "encoding": {
            "x": {"field": "t", "type": "temporal"},
            "y": {"field": "v", "type": "quantitative"},
            "color": {"field": "c", "type": "nominal",
              "scale": {"domain": ["channel 1"], "range": ["#0f6fb6"]},
              "legend": {"title": null, "orient": "none", "legendX": -10, "legendY": 462, "symbolType": "circle", "symbolSize": 16, "labelOffset": 5}}
          }
        }
      ]
    }
  ]
}
